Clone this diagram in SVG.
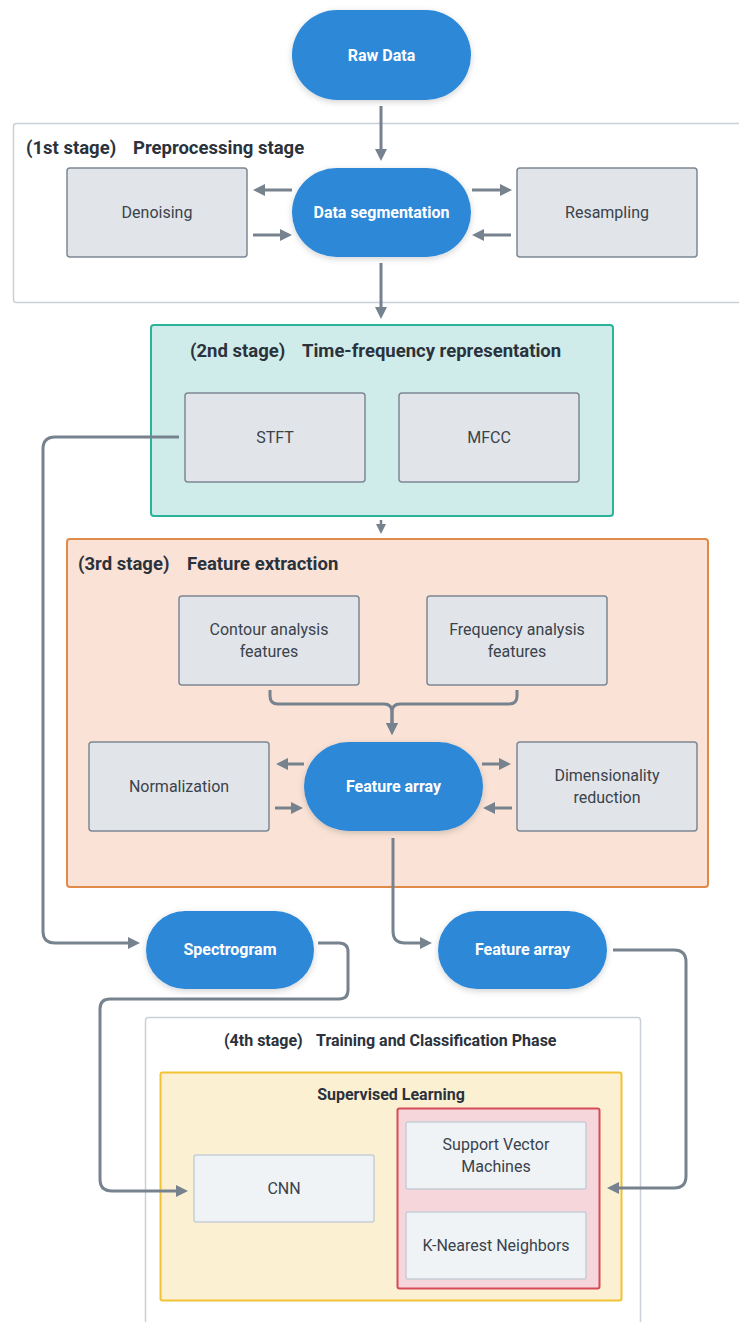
<svg xmlns="http://www.w3.org/2000/svg" width="739" height="1322" viewBox="0 0 739 1322">
  <defs>
    <marker id="arrow" viewBox="0 0 10 10" refX="5" refY="5" markerWidth="4" markerHeight="4" orient="auto" markerUnits="strokeWidth">
      <path d="M0,0 L10,5 L0,10 Z" fill="#76828e"/>
    </marker>
    <filter id="shadow" x="-20%" y="-20%" width="140%" height="150%">
      <feDropShadow dx="0" dy="2" stdDeviation="3" flood-color="#000" flood-opacity="0.18"/>
    </filter>
    <style>
      text { font-family: Roboto, "Noto Sans", "Liberation Sans", sans-serif; }
      .term { fill: #2d88d8; filter: url(#shadow); }
      .termText { fill: #ffffff; font-size: 16px; font-weight: 700; text-anchor: middle; }
      .box { fill: #e1e5e9; stroke: #7d8894; stroke-width: 1.5; }
      .boxText { fill: #3a424c; font-size: 16px; text-anchor: middle; }
      .light { fill: #eff3f6; stroke: #c6ced6; stroke-width: 1.5; }
      .title { fill: #2b323c; font-size: 18.5px; font-weight: 700; }
      .subtitle { fill: #2b323c; font-size: 16px; font-weight: 700; }
      .link { fill: none; stroke: #76828e; stroke-width: 3; marker-end: url(#arrow); }
    </style>
  </defs>

  <rect width="739" height="1322" fill="#ffffff"/>

  <!-- stage containers -->
  <g id="stage1">
    <rect x="13.5" y="123.5" width="740" height="179" rx="3" fill="#ffffff" stroke="#c9d0d7" stroke-width="1.5"/>
    <text class="title" y="154"><tspan x="26">(1st stage)</tspan><tspan x="133">Preprocessing stage</tspan></text>
  </g>
  <g id="stage2">
    <rect x="151" y="325" width="462" height="191" rx="3" fill="#d0ecea" stroke="#2bb39a" stroke-width="2"/>
    <text class="title" y="357"><tspan x="190">(2nd stage)</tspan><tspan x="302">Time-frequency representation</tspan></text>
  </g>
  <g id="stage3">
    <rect x="67" y="539" width="641" height="348" rx="3" fill="#fae3d6" stroke="#e08a4a" stroke-width="2"/>
    <text class="title" y="570"><tspan x="78">(3rd stage)</tspan><tspan x="187">Feature extraction</tspan></text>
  </g>
  <g id="stage4">
    <rect x="145.5" y="1017.5" width="495" height="320" rx="3" fill="#ffffff" stroke="#c9d0d7" stroke-width="1.5"/>
    <text class="subtitle" y="1046"><tspan x="224">(4th stage)</tspan><tspan x="316">Training and Classification Phase</tspan></text>
  </g>
  <g id="supervised">
    <rect x="160.5" y="1072.5" width="461" height="228" rx="2" fill="#fcf0d2" stroke="#f1c232" stroke-width="2"/>
    <text class="subtitle" x="391" y="1100" text-anchor="middle">Supervised Learning</text>
  </g>
  <g id="classic-ml">
    <rect x="397.5" y="1108.5" width="202" height="180" rx="2" fill="#f6d6da" stroke="#d64a5a" stroke-width="2"/>
  </g>

  <!-- connectors -->
  <g id="connectors">
    <path class="link" d="M381,106 V155"/>
    <path class="link" d="M292,190 H259"/>
    <path class="link" d="M253,235 H286"/>
    <path class="link" d="M472,190 H506"/>
    <path class="link" d="M511,235 H478"/>
    <path class="link" d="M381,263 V313"/>
    <path class="link" d="M381,520 V529" style="stroke-width:2.5"/>
    <path class="link" d="M270,690 V696 Q270,704 278,704 H384 Q392,704 392,712 V729"/>
    <path class="link" d="M517,690 V696 Q517,704 509,704 H400 Q392,704 392,712 V729"/>
    <path class="link" d="M304,764 H282"/>
    <path class="link" d="M275,808 H297"/>
    <path class="link" d="M482,764 H505"/>
    <path class="link" d="M512,808 H489"/>
    <path class="link" d="M179,437 H55 Q43,437 43,449 V931 Q43,943 55,943 H134"/>
    <path class="link" d="M393,838 V931 Q393,943 405,943 H426"/>
    <path class="link" d="M318,943 H339 Q348,943 348,952 V990 Q348,999 339,999 H110 Q100,999 100,1009 V1179 Q100,1191 112,1191 H182"/>
    <path class="link" d="M613,950 H674 Q686,950 686,962 V1176 Q686,1188 674,1188 H613"/>
  </g>

  <!-- nodes -->
  <g id="raw-data">
    <rect class="term" x="292" y="10" width="179" height="90" rx="45"/>
    <text class="termText" x="381.5" y="61">Raw Data</text>
  </g>
  <g id="denoising">
    <rect class="box" x="67" y="168" width="180" height="89" rx="3"/>
    <text class="boxText" x="157" y="218">Denoising</text>
  </g>
  <g id="data-segmentation">
    <rect class="term" x="292" y="168" width="179" height="89" rx="44.5"/>
    <text class="termText" x="381.5" y="218">Data segmentation</text>
  </g>
  <g id="resampling">
    <rect class="box" x="517" y="168" width="180" height="89" rx="3"/>
    <text class="boxText" x="607" y="218">Resampling</text>
  </g>
  <g id="stft">
    <rect class="box" x="185" y="393" width="180" height="89" rx="3"/>
    <text class="boxText" x="275" y="443">STFT</text>
  </g>
  <g id="mfcc">
    <rect class="box" x="399" y="393" width="180" height="89" rx="3"/>
    <text class="boxText" x="489" y="443">MFCC</text>
  </g>
  <g id="contour">
    <rect class="box" x="179" y="596" width="180" height="89" rx="3"/>
    <text class="boxText" x="269" y="635">Contour analysis</text>
    <text class="boxText" x="269" y="657">features</text>
  </g>
  <g id="frequency">
    <rect class="box" x="427" y="596" width="180" height="89" rx="3"/>
    <text class="boxText" x="517" y="635">Frequency analysis</text>
    <text class="boxText" x="517" y="657">features</text>
  </g>
  <g id="normalization">
    <rect class="box" x="89" y="742" width="180" height="89" rx="3"/>
    <text class="boxText" x="179" y="792">Normalization</text>
  </g>
  <g id="feature-array">
    <rect class="term" x="304" y="742" width="179" height="89" rx="44.5"/>
    <text class="termText" x="393.5" y="792">Feature array</text>
  </g>
  <g id="dim-reduction">
    <rect class="box" x="517" y="742" width="180" height="89" rx="3"/>
    <text class="boxText" x="607" y="781">Dimensionality</text>
    <text class="boxText" x="607" y="803">reduction</text>
  </g>
  <g id="spectrogram">
    <rect class="term" x="146" y="911" width="168" height="78" rx="39"/>
    <text class="termText" x="230" y="955">Spectrogram</text>
  </g>
  <g id="feature-array-out">
    <rect class="term" x="438" y="911" width="169" height="78" rx="39"/>
    <text class="termText" x="522.5" y="955">Feature array</text>
  </g>
  <g id="cnn">
    <rect class="light" x="194" y="1155" width="180" height="67" rx="2"/>
    <text class="boxText" x="284" y="1194">CNN</text>
  </g>
  <g id="svm">
    <rect class="light" x="406" y="1122" width="180" height="67" rx="2"/>
    <text class="boxText" x="496" y="1150">Support Vector</text>
    <text class="boxText" x="496" y="1172">Machines</text>
  </g>
  <g id="knn">
    <rect class="light" x="406" y="1212" width="180" height="67" rx="2"/>
    <text class="boxText" x="496" y="1251">K-Nearest Neighbors</text>
  </g>
</svg>
